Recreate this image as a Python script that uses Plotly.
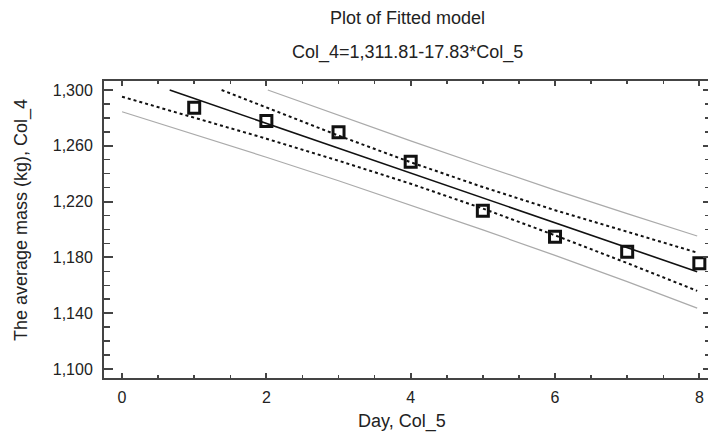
import plotly.graph_objects as go

# Observed data
days = [1, 2, 3, 4, 5, 6, 7, 8]
mass = [1287.3, 1277.8, 1269.7, 1248.6, 1213.5, 1194.8, 1184.1, 1175.8]

# Fitted line (as drawn)
fit_x = [0.66, 7.97]
fit_y = [1300.0, 1169.7]

# Confidence limits (dotted)
conf_up_x = [1.38, 2, 3, 4, 5, 6, 7, 7.97]
conf_up_y = [1300.0, 1287.3, 1267.3, 1248.2, 1230.4, 1213.8, 1198.1, 1183.4]
conf_lo_x = [0, 1, 2, 3, 4, 5, 6, 7, 7.97]
conf_lo_y = [1295.2, 1280.2, 1265.1, 1249.3, 1232.8, 1215.0, 1195.8, 1175.9, 1156.0]

# Prediction limits (grey)
pred_up_x = [2.02, 3, 4, 5, 6, 7, 7.97]
pred_up_y = [1300.0, 1281.7, 1263.5, 1245.7, 1228.2, 1211.4, 1195.3]
pred_lo_x = [0, 1, 2, 3, 4, 5, 6, 7, 7.97]
pred_lo_y = [1284.4, 1268.3, 1251.8, 1234.9, 1217.5, 1199.7, 1181.4, 1162.6, 1143.6]

title_text = "Plot of Fitted model"
subtitle_text = "Col_4=1,311.81-17.83*Col_5"
x_title = "Day, Col_5"
y_title = "The average mass (kg), Col_4"

FONT = "Liberation Sans, Arial, sans-serif"
AX = "#444444"
GREY = "#aaaaaa"

fig = go.Figure()
fig.add_trace(go.Scatter(x=pred_up_x, y=pred_up_y, mode="lines",
                         line=dict(color=GREY, width=1.2), hoverinfo="skip"))
fig.add_trace(go.Scatter(x=pred_lo_x, y=pred_lo_y, mode="lines",
                         line=dict(color=GREY, width=1.2), hoverinfo="skip"))
fig.add_trace(go.Scatter(x=conf_up_x, y=conf_up_y, mode="lines",
                         line=dict(color="#111111", width=2, dash="3px,3px")))
fig.add_trace(go.Scatter(x=conf_lo_x, y=conf_lo_y, mode="lines",
                         line=dict(color="#111111", width=2, dash="3px,3px")))
fig.add_trace(go.Scatter(x=fit_x, y=fit_y, mode="lines",
                         line=dict(color="#111111", width=1.6)))
fig.add_trace(go.Scatter(x=days, y=mass, mode="markers",
                         marker=dict(symbol="square-open", size=11,
                                     color="#111111", line=dict(width=3, color="#111111")),
                         cliponaxis=False))
# invisible trace to anchor the right-side tick axis
fig.add_trace(go.Scatter(x=[days[0]], y=[mass[0]], yaxis="y2", mode="markers",
                         marker=dict(opacity=0), hoverinfo="skip"))

yr = [1093.5, 1306.45]
fig.update_layout(
    width=708, height=440,
    margin=dict(l=104, r=0, t=81, b=62, autoexpand=False),
    paper_bgcolor="white", plot_bgcolor="white",
    showlegend=False,
    font=dict(family=FONT, size=16, color="#222222"),
    xaxis=dict(range=[-0.25, 8.12], tick0=0, dtick=2, ticks="inside", ticklen=5,
               tickwidth=2, tickcolor=AX, showline=True, linecolor=AX, linewidth=2,
               mirror="ticks", showgrid=False, zeroline=False, automargin=False,
               tickfont=dict(size=16), ticklabelstandoff=4,
               minor=dict(dtick=0.5, ticks="inside", ticklen=3, tickwidth=1.5,
                          tickcolor=AX, showgrid=False)),
    yaxis=dict(range=yr, tick0=1100, dtick=40, tickformat=",d", ticks="inside",
               ticklen=9, tickwidth=2, tickcolor=AX, showline=True, linecolor=AX,
               linewidth=2, mirror=False, showgrid=False, zeroline=False,
               automargin=False, tickfont=dict(size=16), ticklabelstandoff=6,
               minor=dict(dtick=10, ticks="inside", ticklen=6, tickwidth=1.5,
                          tickcolor=AX, showgrid=False)),
    yaxis2=dict(range=yr, overlaying="y", side="right", tick0=1100, dtick=40,
                ticks="inside", ticklen=5, tickwidth=2, tickcolor=AX,
                showline=False, showticklabels=False, showgrid=False, zeroline=False,
                automargin=False,
                minor=dict(dtick=10, ticks="inside", ticklen=3, tickwidth=1.5,
                           tickcolor=AX, showgrid=False)),
    annotations=[
        dict(text=title_text, xref="paper", yref="paper", x=0.5017, y=1.212,
             xanchor="center", yanchor="middle", showarrow=False,
             font=dict(size=18, family=FONT, color="#222222")),
        dict(text=subtitle_text, xref="paper", yref="paper", x=0.5017, y=1.0976,
             xanchor="center", yanchor="middle", showarrow=False,
             font=dict(size=18, family=FONT, color="#222222")),
        dict(text=x_title, xref="paper", yref="paper", x=0.493, y=-0.148,
             xanchor="center", yanchor="middle", showarrow=False,
             font=dict(size=18, family=FONT, color="#222222")),
        dict(text=y_title, xref="paper", yref="paper", x=-0.1358, y=0.532,
             xanchor="center", yanchor="middle", showarrow=False, textangle=-90,
             font=dict(size=18, family=FONT, color="#222222")),
    ],
)

# remove the default page margin so the 708x440 figure fills the window exactly
page_fix = ("document.body.style.margin='0';"
            "document.body.style.overflow='hidden';"
            "document.documentElement.style.overflow='hidden';")
fig.write_html("out.html", post_script=page_fix,
               config={"displayModeBar": False, "staticPlot": True})
